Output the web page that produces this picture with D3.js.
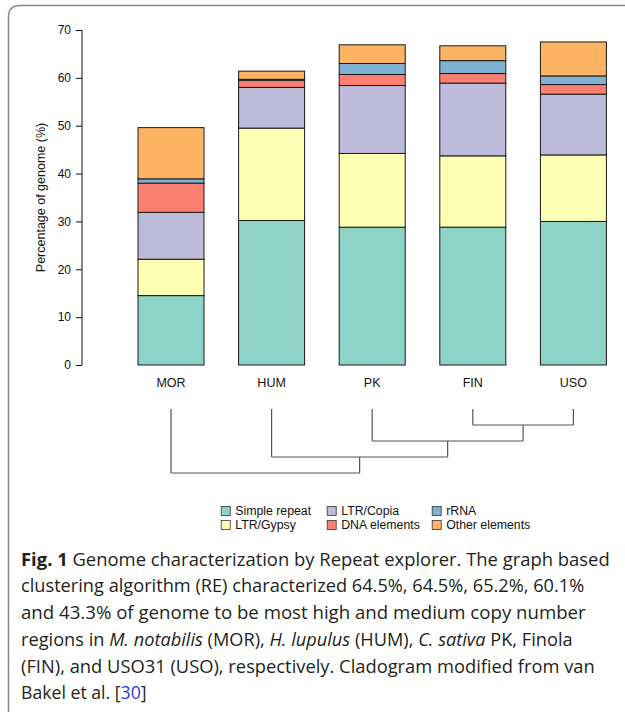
<!DOCTYPE html>
<html>
<head>
<meta charset="utf-8">
<script src="https://cdn.jsdelivr.net/npm/d3@7/dist/d3.min.js"></script>
<style>
  html, body { margin: 0; padding: 0; background: #fff; }
  svg { display: block; }
</style>
</head>
<body>
<svg id="chart" width="625" height="712"></svg>
<script>
// ---- data ----
const categories = ["MOR", "HUM", "PK", "FIN", "USO"];
const seriesNames = ["Simple repeat", "LTR/Gypsy", "LTR/Copia", "DNA elements", "rRNA", "Other elements"];
const simpleRepeat  = [14.5, 30.2, 28.8, 28.8, 30.0];
const ltrGypsy      = [7.6, 19.3, 15.4, 14.9, 13.9];
const ltrCopia      = [9.8, 8.5, 14.2, 15.2, 12.7];
const dnaElements   = [6.1, 1.5, 2.3, 2.0, 2.0];
const rRNA          = [0.9, 0.2, 2.3, 2.7, 1.8];
const otherElements = [10.7, 1.7, 3.9, 3.1, 7.1];
const yTicks = [0, 10, 20, 30, 40, 50, 60, 70];
const legendOrder = ["Simple repeat", "LTR/Gypsy", "LTR/Copia", "DNA elements", "rRNA", "Other elements"];
// cladogram topology: (MOR,(HUM,(PK,(FIN,USO))))
const cladogram = {children: [{name: "MOR"}, {children: [{name: "HUM"}, {children: [{name: "PK"}, {children: [{name: "FIN"}, {name: "USO"}]}]}]}]};
const captionLines = [
  [["b", "Fig. 1"], ["n", " Genome characterization by Repeat explorer. The graph based"]],
  [["n", "clustering algorithm (RE) characterized 64.5%, 64.5%, 65.2%, 60.1%"]],
  [["n", "and 43.3% of genome to be most high and medium copy number"]],
  [["n", "regions in "], ["i", "M. notabilis"], ["n", " (MOR), "], ["i", "H. lupulus"], ["n", " (HUM), "], ["i", "C. sativa"], ["n", " PK, Finola"]],
  [["n", "(FIN), and USO31 (USO), respectively. Cladogram modified from van"]],
  [["n", "Bakel et al. ["], ["l", "30"], ["n", "]"]]
];

// ---- build table ----
const seriesValues = [simpleRepeat, ltrGypsy, ltrCopia, dnaElements, rRNA, otherElements];
const table = categories.map((c, i) => {
  const row = {category: c};
  seriesNames.forEach((s, j) => row[s] = seriesValues[j][i]);
  return row;
});
const colors = d3.scaleOrdinal().domain(seriesNames)
  .range(["#8DD3C7", "#FFFFB3", "#BEBADA", "#FB8072", "#80B1D3", "#FDB462"]);

const svg = d3.select("#chart");
const font = "'Liberation Sans', Arial, Helvetica, sans-serif";

// frame
svg.append("path")
  .attr("d", "M8.5,730 L8.5,17 Q8.5,5.5 20,5.5 L640,5.5")
  .attr("fill", "none").attr("stroke", "#8a8a8a").attr("stroke-width", 1.5);

const x = d3.scaleBand().domain(categories).range([120.7, 623.7]).paddingInner(0.344).paddingOuter(0.172);
const y = d3.scaleLinear().domain([0, 70]).range([365, 30]);

// y axis
const yAxis = svg.append("g").attr("transform", "translate(82,0)")
  .call(d3.axisLeft(y).tickValues(yTicks).tickSize(6).tickPadding(5));
yAxis.select(".domain").attr("stroke", "#111").attr("d", `M0,${y(0)}V${y(70)}`);
yAxis.selectAll(".tick line").attr("stroke", "#111");
yAxis.selectAll(".tick text").attr("font-family", font).attr("font-size", 12).attr("fill", "#111");

svg.append("text")
  .attr("transform", `translate(44.5,${(y(0) + y(70)) / 2}) rotate(-90)`)
  .attr("text-anchor", "middle")
  .attr("font-family", font).attr("font-size", 12.5).attr("fill", "#111")
  .text("Percentage of genome (%)");

// stacked bars
const stack = d3.stack().keys(seriesNames)(table);
svg.append("g").selectAll("g").data(stack).join("g")
  .attr("fill", d => colors(d.key))
  .selectAll("rect").data(d => d).join("rect")
  .attr("x", d => x(d.data.category))
  .attr("width", x.bandwidth())
  .attr("y", d => y(d[1]))
  .attr("height", d => y(d[0]) - y(d[1]))
  .attr("stroke", "#1a1a1a").attr("stroke-width", 1);

// category labels
svg.append("g").selectAll("text").data(categories).join("text")
  .attr("x", d => x(d) + x.bandwidth() / 2)
  .attr("y", 387.3)
  .attr("text-anchor", "middle")
  .attr("font-family", font).attr("font-size", 12.5).attr("fill", "#111")
  .text(d => d);

// cladogram
const root = d3.hierarchy(cladogram);
const cladeY = d3.scaleLinear().domain([0, 1]).range([409, 425]);
root.eachAfter(n => {
  n.cx = n.children ? d3.mean(n.children, c => c.cx) : x(n.data.name) + x.bandwidth() / 2;
  n.cy = cladeY(n.height);
});
const clade = svg.append("g").attr("fill", "none").attr("stroke", "#555").attr("stroke-width", 1.2);
root.descendants().forEach(n => {
  if (n.parent) {
    clade.append("line").attr("x1", n.cx).attr("x2", n.cx).attr("y1", n.cy).attr("y2", n.parent.cy);
  }
  if (n.children) {
    clade.append("line").attr("x1", n.children[0].cx).attr("x2", n.children[1].cx)
      .attr("y1", n.cy).attr("y2", n.cy);
  }
});

// legend (3 columns, filled column-wise)
const legCols = [220.7, 326.7, 431.7];
const legRows = [511, 525];
const legend = svg.append("g");
legendOrder.forEach((name, i) => {
  const col = Math.floor(i / 2), row = i % 2;
  const g = legend.append("g").attr("transform", `translate(${legCols[col]},${legRows[row]})`);
  g.append("rect").attr("x", 0.5).attr("y", -4.5).attr("width", 9).attr("height", 9)
    .attr("fill", colors(name)).attr("stroke", "#333").attr("stroke-width", 0.8);
  g.append("text").attr("x", 14.5).attr("y", 4.3)
    .attr("font-family", font).attr("font-size", 12.3).attr("fill", "#111").text(name);
});

// caption
const capFont = "'Open Sans', 'Noto Sans', sans-serif";
const lineEnds = [610, 584.5, 586, 573, 595, 146.7];
const cap = svg.append("g");
captionLines.forEach((parts, i) => {
  const t = cap.append("text")
    .attr("x", 0).attr("y", 0)
    .attr("font-family", capFont).attr("font-size", 18.5).attr("fill", "#231f20");
  parts.forEach(([style, str]) => {
    const ts = t.append("tspan").text(str);
    if (style === "b") ts.attr("font-weight", "bold");
    if (style === "i") ts.attr("font-style", "italic");
    if (style === "l") ts.attr("fill", "#2a3ce0");
  });
  const w = t.node().getComputedTextLength();
  const target = lineEnds[i] - 21;
  const sx = target / w;
  t.attr("transform", `translate(21,${565.7 + i * 26.7}) scale(${sx},1)`);
});
</script>
</body>
</html>
